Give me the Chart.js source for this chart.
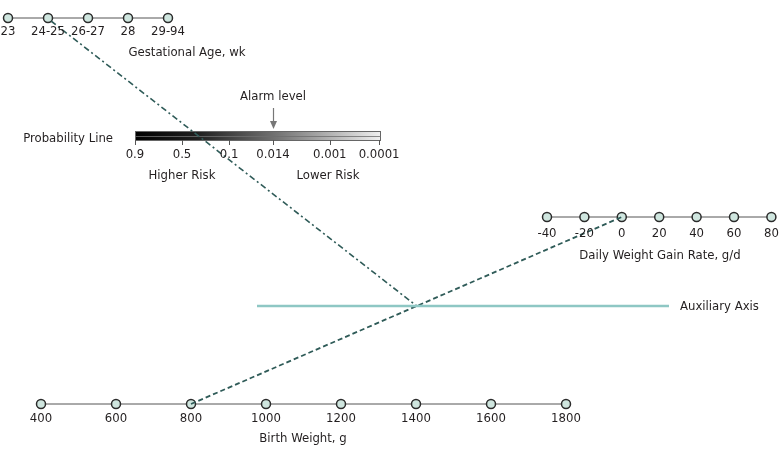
<!DOCTYPE html>
<html lang="en">
<head>
  <meta charset="UTF-8">
  <title>Nomogram</title>
  <script src="https://cdn.jsdelivr.net/npm/chart.js"></script>
  <style>
    html, body { margin: 0; padding: 0; background: #fff; }
    #wrap { width: 780px; height: 459px; }
  </style>
</head>
<body>
  <div id="wrap"><canvas id="nomo" width="780" height="459"></canvas></div>

  <script>
    // Datos del nomograma
    const gaLabels = ['23', '24-25', '26-27', '28', '29-94'];
    const bwValues = [400, 600, 800, 1000, 1200, 1400, 1600, 1800];
    const dwgValues = [-40, -20, 0, 20, 40, 60, 80];
    const probValues = [0.9, 0.5, 0.1, 0.014, 0.001, 0.0001];
    const probLabels = ['0.9', '0.5', '0.1', '0.014', '0.001', '0.0001'];
    const alarmLevel = 0.014;
    // ejemplo marcado en la figura
    const exampleGA = '24-25';
    const exampleBW = 800;
    const exampleDWG = 0;

    // geometria de cada eje (coordenadas del lienzo)
    const gaAxis = { x0: 8, step: 40, y: 18 };
    const bwAxis = { x0: 41, step: 75, y: 404, v0: 400, dv: 200 };
    const dwgAxis = { x0: 547, step: 37.4, y: 217, v0: -40, dv: 20 };
    const probAxis = { xc: 182, k: 21.4, y: 131, h: 9, left: 135, right: 381 };
    const auxAxis = { x1: 257, x2: 669, y: 306 };

    const FONT = '"Liberation Sans Narrow", "DejaVu Sans Condensed", "Liberation Sans", sans-serif';
    const TXT = '#231f20';

    const gaX = lab => gaAxis.x0 + gaAxis.step * gaLabels.indexOf(lab);
    const bwX = v => bwAxis.x0 + bwAxis.step * (v - bwAxis.v0) / bwAxis.dv;
    const dwgX = v => dwgAxis.x0 + dwgAxis.step * (v - dwgAxis.v0) / dwgAxis.dv;
    const probX = p => probAxis.xc - probAxis.k * Math.log(p / (1 - p));

    // punto en el eje auxiliar: recta peso al nacer -> ganancia diaria
    const pBW = { x: bwX(exampleBW), y: bwAxis.y };
    const pDWG = { x: dwgX(exampleDWG), y: dwgAxis.y };
    const tAux = (pBW.y - auxAxis.y) / (pBW.y - pDWG.y);
    const pAux = { x: pBW.x + tAux * (pDWG.x - pBW.x), y: auxAxis.y };
    const pGA = { x: gaX(exampleGA) + 3, y: gaAxis.y + 3 };

    const pointStyle = {
      showLine: true,
      borderColor: '#555',
      borderWidth: 1,
      pointRadius: 4.5,
      pointBackgroundColor: '#cfe6df',
      pointBorderColor: '#2b2b2b',
      pointBorderWidth: 1.5
    };

    // textos y barra de probabilidad
    const labelsPlugin = {
      id: 'labels',
      beforeDatasetsDraw(chart) {
        const ctx = chart.ctx;
        const xs = chart.scales.x, ys = chart.scales.y;
        const L = xs.getPixelForValue(probAxis.left), R = xs.getPixelForValue(probAxis.right);
        const T = ys.getPixelForValue(probAxis.y), B = ys.getPixelForValue(probAxis.y + probAxis.h);
        ctx.save();
        const g = ctx.createLinearGradient(L, 0, R, 0);
        g.addColorStop(0, '#000');
        g.addColorStop(0.25, '#1e1e1e');
        g.addColorStop(0.6, '#7a7a7a');
        g.addColorStop(1, '#f0f0f0');
        ctx.fillStyle = g;
        ctx.fillRect(L, T, R - L, B - T);
        ctx.strokeStyle = '#666';
        ctx.lineWidth = 1;
        ctx.strokeRect(L + 0.5, T + 0.5, R - L - 1, B - T);
        ctx.beginPath();
        ctx.moveTo(L, Math.round((T + B) / 2) + 0.5);
        ctx.lineTo(R, Math.round((T + B) / 2) + 0.5);
        ctx.strokeStyle = 'rgba(110,110,110,0.8)';
        ctx.stroke();
        // marcas
        ctx.strokeStyle = '#555';
        probValues.forEach(p => {
          const x = Math.round(xs.getPixelForValue(probX(p))) + 0.5;
          ctx.beginPath();
          ctx.moveTo(x, B);
          ctx.lineTo(x, B + 5);
          ctx.stroke();
        });
        ctx.restore();
      },
      afterDatasetsDraw(chart) {
        const ctx = chart.ctx;
        const xs = chart.scales.x, ys = chart.scales.y;
        const px = v => xs.getPixelForValue(v), py = v => ys.getPixelForValue(v + 1);
        ctx.save();
        ctx.fillStyle = TXT;
        ctx.font = '13px ' + FONT;
        ctx.textAlign = 'center';
        ctx.textBaseline = 'middle';

        gaLabels.forEach(l => ctx.fillText(l, px(gaX(l)), py(gaAxis.y + 13)));
        bwValues.forEach(v => ctx.fillText(String(v), px(bwX(v)), py(bwAxis.y + 14)));
        dwgValues.forEach(v => ctx.fillText(String(v), px(dwgX(v)), py(dwgAxis.y + 16)));
        probValues.forEach((p, i) => ctx.fillText(probLabels[i], px(probX(p)), py(154)));

        ctx.fillText('Gestational Age, wk', px(187), py(52));
        ctx.fillText('Birth Weight, g', px(303), py(438));
        ctx.fillText('Daily Weight Gain Rate, g/d', px(660), py(255));
        ctx.fillText('Alarm level', px(probX(alarmLevel)), py(96));
        ctx.fillText('Higher Risk', px(182), py(175));
        ctx.fillText('Lower Risk', px(328), py(175));
        ctx.textAlign = 'right';
        ctx.fillText('Probability Line', px(113), py(138));
        ctx.textAlign = 'left';
        ctx.fillText('Auxiliary Axis', px(auxAxis.x2 + 11), py(auxAxis.y));

        // flecha del nivel de alarma
        const ax = Math.round(px(probX(alarmLevel))) + 0.5;
        const ay = v => ys.getPixelForValue(v);
        ctx.strokeStyle = '#777';
        ctx.fillStyle = '#777';
        ctx.lineWidth = 1.2;
        ctx.beginPath();
        ctx.moveTo(ax, ay(108));
        ctx.lineTo(ax, ay(123));
        ctx.stroke();
        ctx.beginPath();
        ctx.moveTo(ax - 3.5, ay(121));
        ctx.lineTo(ax + 3.5, ay(121));
        ctx.lineTo(ax, ay(129));
        ctx.closePath();
        ctx.fill();
        ctx.restore();
      }
    };

    new Chart(document.getElementById('nomo'), {
      type: 'scatter',
      data: {
        datasets: [
          {
            data: [{ x: auxAxis.x1, y: auxAxis.y }, { x: auxAxis.x2, y: auxAxis.y }],
            showLine: true, borderColor: '#8ec7c4', borderWidth: 2.5, pointRadius: 0
          },
          {
            data: [pGA, pAux],
            showLine: true, borderColor: '#2f5b58', borderWidth: 1.6, pointRadius: 0,
            borderDash: [6, 3, 2, 3]
          },
          {
            data: [pBW, pDWG],
            showLine: true, borderColor: '#2f5b58', borderWidth: 1.8, pointRadius: 0,
            borderDash: [5, 3]
          },
          Object.assign({ data: gaLabels.map(l => ({ x: gaX(l), y: gaAxis.y })) }, pointStyle),
          Object.assign({ data: bwValues.map(v => ({ x: bwX(v), y: bwAxis.y })) }, pointStyle),
          Object.assign({ data: dwgValues.map(v => ({ x: dwgX(v), y: dwgAxis.y })) }, pointStyle)
        ]
      },
      options: {
        responsive: false,
        animation: false,
        layout: { padding: 0, autoPadding: false },
        scales: {
          x: { type: 'linear', min: 0, max: 780, display: false },
          y: { type: 'linear', min: 0, max: 459, reverse: true, display: false }
        },
        plugins: {
          legend: { display: false },
          tooltip: { enabled: false }
        }
      },
      plugins: [labelsPlugin]
    });
  </script>
</body>
</html>
